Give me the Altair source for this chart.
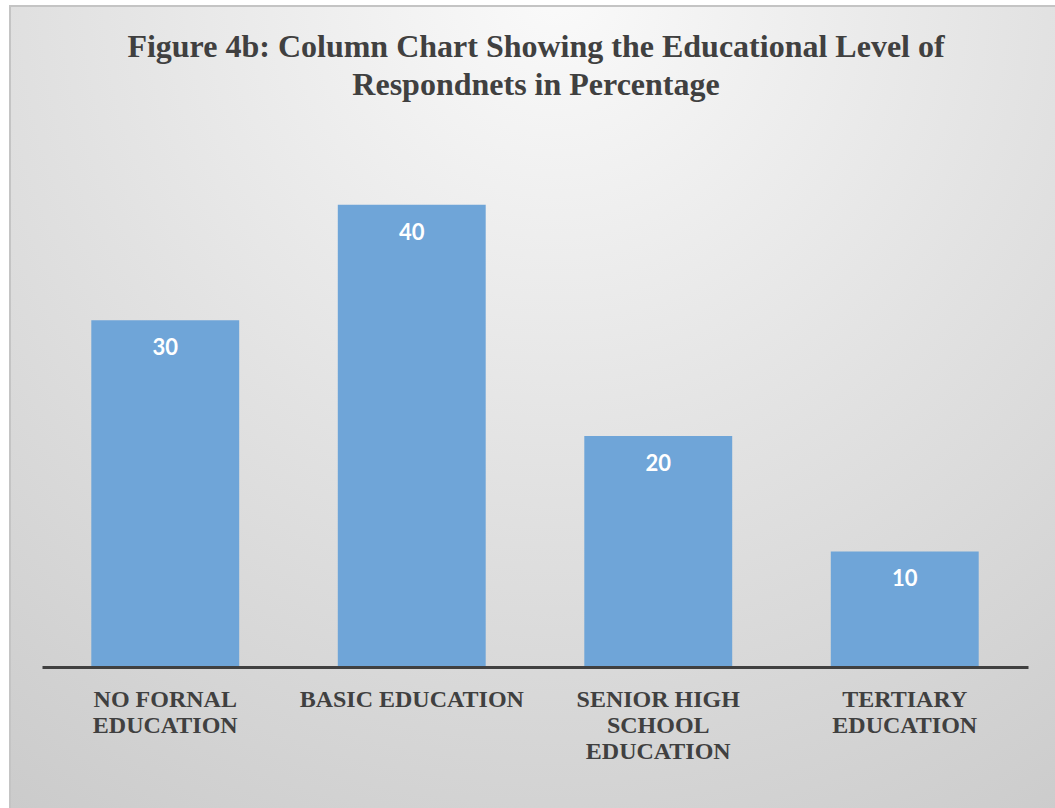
import altair as alt
import pandas as pd

# Educational level of respondents (%)
categories = [
    "NO FORNAL EDUCATION",
    "BASIC EDUCATION",
    "SENIOR HIGH SCHOOL EDUCATION",
    "TERTIARY EDUCATION",
]
axis_labels = [
    "NO FORNAL\nEDUCATION",
    "BASIC EDUCATION",
    "SENIOR HIGH\nSCHOOL\nEDUCATION",
    "TERTIARY\nEDUCATION",
]
percentages = [30, 40, 20, 10]

title_lines = [
    "Figure 4b: Column Chart Showing the Educational Level of",
    "Respondnets in Percentage",
]

df = pd.DataFrame({"level": categories, "label": axis_labels, "pct": percentages})

PLOT_W = 986
PLOT_H = 520
BAR_COLOR = "#6fa5d8"
TEXT_DARK = "#404040"
SERIF = "Liberation Serif"

x_enc = alt.X("level:N", sort=categories,
              scale=alt.Scale(paddingInner=0.4, paddingOuter=0.2),
              axis=alt.Axis(title=None, labels=False, ticks=False,
                            domainColor=TEXT_DARK, domainWidth=3, zindex=2))
y_scale = alt.Scale(domain=[0, 45])

# soft radial backdrop behind the whole chart frame
backdrop = alt.Chart(pd.DataFrame({"k": [0]})).mark_rect(
    fill={
        "gradient": "radial",
        "x1": 0.5, "y1": 0.1, "r1": 0.0,
        "x2": 0.5, "y2": 0.1, "r2": 1.0,
        "stops": [
            {"offset": 0.0, "color": "#fafafa"},
            {"offset": 0.45, "color": "#e2e2e2"},
            {"offset": 1.0, "color": "#c6c6c6"},
        ],
    },
    stroke="#c4c4c4",
    strokeWidth=2,
).encode(
    x=alt.value(-32), x2=alt.value(1060),
    y=alt.value(-141), y2=alt.value(700),
)

title = alt.Chart(pd.DataFrame({"t": [title_lines]})).mark_text(
    font=SERIF, fontSize=32, fontWeight="bold", color=TEXT_DARK,
    align="center", baseline="alphabetic", lineHeight=38,
).encode(x=alt.value(PLOT_W / 2 + 1), y=alt.value(57 - 147), text="t:N")

bars = alt.Chart(df).mark_bar(color=BAR_COLOR).encode(
    x=x_enc,
    y=alt.Y("pct:Q", scale=y_scale, axis=None),
)

values = alt.Chart(df).mark_text(
    font="Lato", fontSize=22, fontWeight="bold", color="white",
    baseline="alphabetic", dy=35,
).encode(x=alt.X("level:N", sort=categories), y=alt.Y("pct:Q", scale=y_scale), text="pct:Q")

cat_labels = alt.Chart(df).mark_text(
    font=SERIF, fontSize=24, fontWeight="bold", color=TEXT_DARK,
    align="center", baseline="alphabetic", lineBreak="\n", lineHeight=26,
).encode(x=alt.X("level:N", sort=categories), y=alt.value(PLOT_H + 40), text="label:N")

chart = alt.layer(backdrop, title, bars, values, cat_labels).properties(
    width=PLOT_W,
    height=PLOT_H,
    autosize=alt.AutoSizeParams(type="none"),
    padding={"left": 42, "top": 147, "right": 27, "bottom": 141},
    background="white",
).configure_view(stroke=None, fill=None)

chart.save("out.html", embed_options={"renderer": "svg", "actions": False})
